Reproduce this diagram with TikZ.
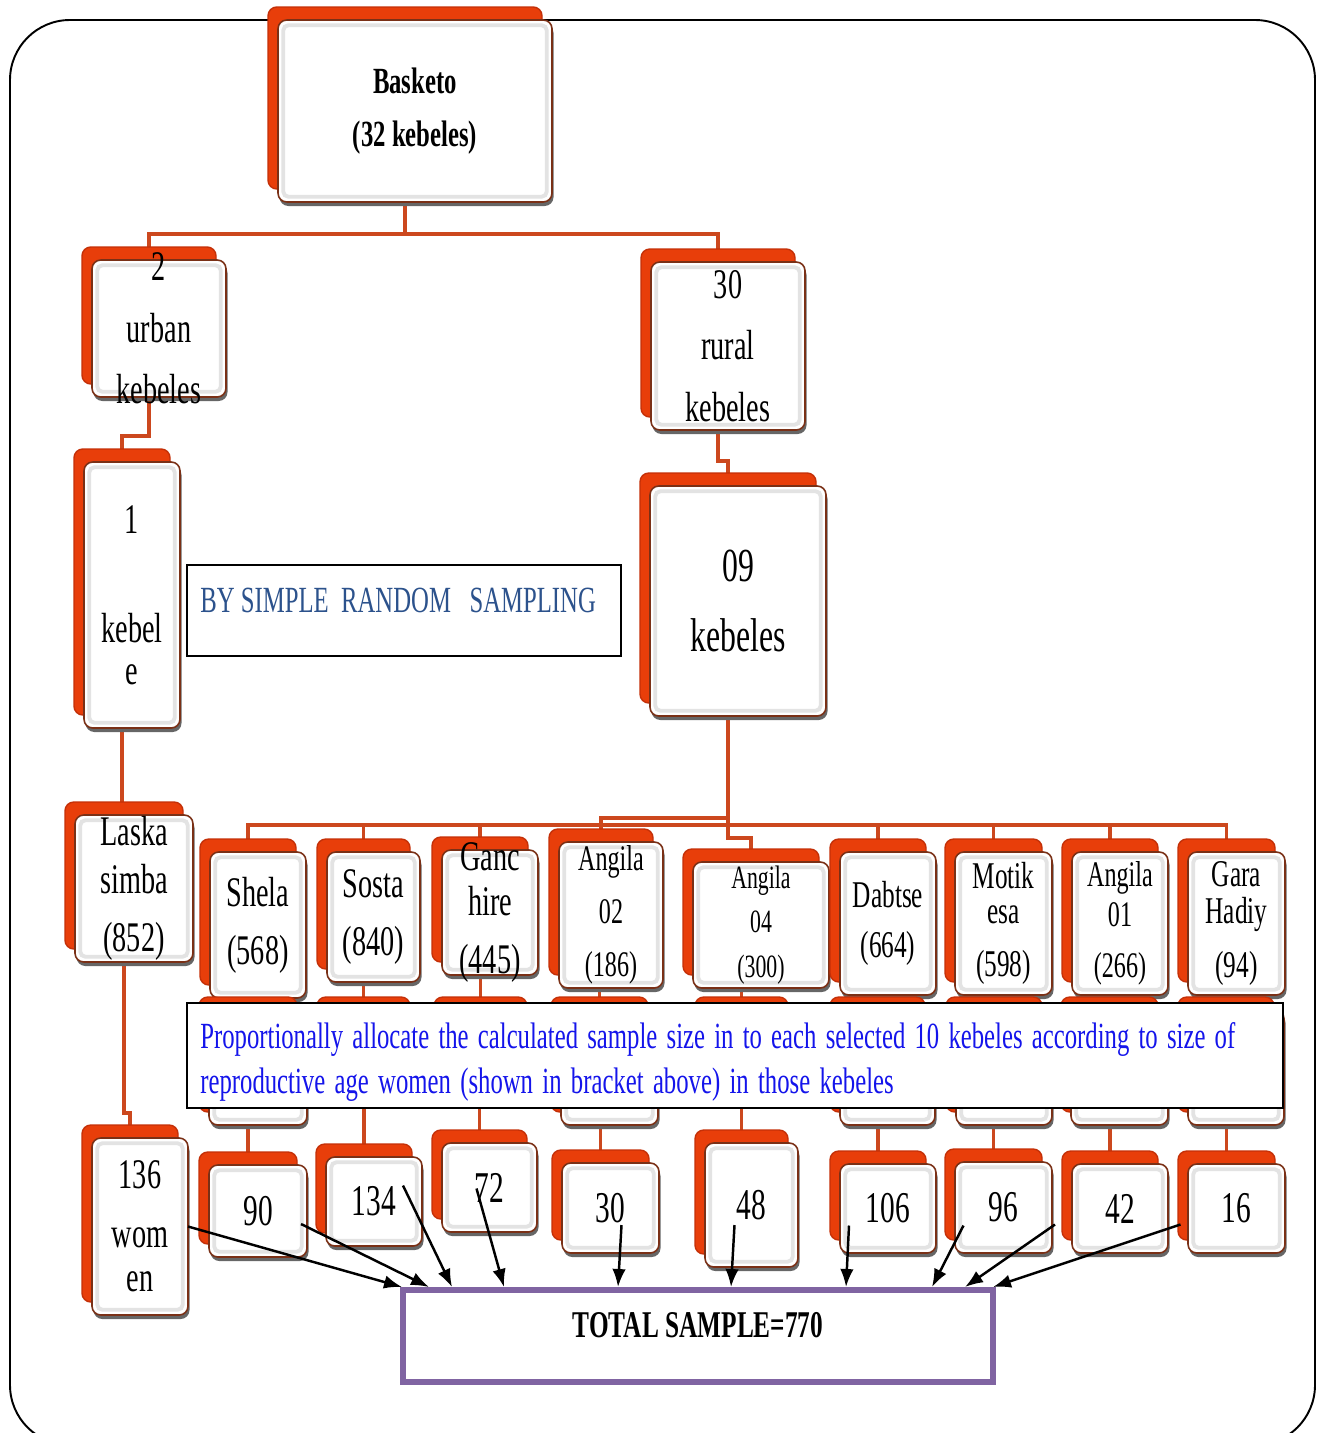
\documentclass[tikz,border=0pt]{standalone}
\usepackage{fontspec}
\setmainfont{Liberation Serif}[FakeStretch=0.67]
\usetikzlibrary{shadows,arrows.meta,calc}
\pgfdeclarelayer{background}
\pgfsetlayers{background,main}
\definecolor{backred}{RGB}{232,62,10}
\definecolor{backedge}{RGB}{196,48,8}
\definecolor{frontedge}{RGB}{122,48,22}
\definecolor{linkred}{RGB}{204,72,30}
\definecolor{srsblue}{RGB}{44,82,140}
\definecolor{allocblue}{RGB}{20,20,235}
\definecolor{totpurple}{RGB}{128,100,162}
\tikzstyle{kbox}=[draw=frontedge, line width=0.9pt, fill=white, rounded corners=5pt, inner sep=0pt,
  copy shadow={shadow xshift=-0.2cm, shadow yshift=0.26cm, fill=backred, draw=backedge, line width=0.8pt},
  general shadow={shadow xshift=0.03cm, shadow yshift=-0.08cm, fill=black!60}]
\tikzstyle{bevel}=[draw=black!11, line width=2.2pt, rounded corners=3pt]
\tikzstyle{ktext}=[align=center, inner sep=0pt]
\tikzstyle{link}=[draw=linkred, line width=2.2pt]
\tikzstyle{tot}=[draw, line width=1.4pt, -{Latex[length=0.36cm, width=0.27cm]}]

\begin{document}
\begin{tikzpicture}[x=0.02cm, y=-0.02cm]
    \useasboundingbox (0,0) rectangle (1319,1433);
    % Outer frame
    \draw[line width=1.1pt, rounded corners=1.2cm] (10,20) rectangle (1315,1445);

    % First we draw the boxes
    \foreach \name/\x/\y/\w/\h in {bask/415/111/274/182, urban/159/328.5/134/137, rural/728/346/154/168,
        k1/132/595/96/266, nine/738/601/176/230, laska/134/888.5/118/147,
        shela/258/925/96/146, sosta/373.5/917/93/130, ganc/490/912.5/96/125, a02/611/915/104/146,
        a04/761/925/136/126, dabtse/888/923.5/96/143, motik/1003.5/923.5/97/143,
        a01/1120/923.5/96/143, gara/1236.5/923.5/97/143, w136/140/1226.5/96/177,
        h1/258/1067.5/98/115, h2/373.5/1055/93/90, h3/490.5/1055/93/90, h4/609.5/1067.5/97/115,
        h5/751.5/1055/93/90, h6/887.5/1067.5/95/115, h7/1004/1067.5/96/115,
        h8/1119.5/1067.5/97/115, h9/1236/1067.5/96/115}
        \node[kbox, minimum width=\w*0.02cm, minimum height=\h*0.02cm] (\name) at (\x,\y) {};

    % Sample sizes
    \foreach \name/\x/\y/\w/\h/\txt in {s90/258/1211/98/92/90, s134/374/1201.5/96/89/134,
        s72/489.5/1187.5/95/89/72, s30/610.5/1208/97/90/30, s48/751.5/1205/93/124/48,
        s106/888/1208.5/96/89/106, s96/1003.5/1207.5/97/91/96, s42/1120/1208.5/96/89/42,
        s16/1236.5/1208.5/97/89/16}
        \node[kbox, minimum width=\w*0.02cm, minimum height=\h*0.02cm,
            font=\fontsize{25}{30}\selectfont] (\name) at (\x,\y) {\txt};

    \foreach \n in {bask,urban,rural,k1,nine,laska,shela,sosta,ganc,a02,a04,dabtse,motik,a01,gara,
        w136,h1,h2,h3,h4,h5,h6,h7,h8,h9,s90,s134,s72,s30,s48,s106,s96,s42,s16}
        \path[bevel] ([shift={(6,-6)}]\n.south west) rectangle ([shift={(-6,6)}]\n.north east);

    % Texts of the boxes
    \foreach \name/\fs/\bs/\txt in {bask/21/30/{\textbf{Basketo}\\\textbf{(32 kebeles)}},
        urban/24/35/{2\\urban\\kebeles}, rural/24/35/{30\\rural\\kebeles},
        k1/24/24/{1\\[38pt]kebel\\e}, nine/27/40/{09\\kebeles},
        laska/24/27/{Laska\\simba\\[6pt](852)}, shela/24/33/{Shela\\(568)},
        sosta/24/32.5/{Sosta\\(840)}, ganc/24/25.6/{Ganc\\hire\\[7pt](445)},
        a02/20.5/30/{Angila\\02\\(186)}, a04/18.5/25.5/{Angila\\04\\(300)},
        dabtse/21.5/28/{Dabtse\\(664)}, motik/21.5/20/{Motik\\esa\\[10pt](598)},
        a01/20.5/22.5/{Angila\\01\\[6.5pt](266)}, gara/21.5/21/{Gara\\Hadiy\\[9.5pt](94)},
        w136/24/25/{136\\[8.5pt]wom\\en}}
        \node[ktext, font=\fontsize{\fs}{\bs}\selectfont] (\name-t) at (\name) {\txt};

    % Notes
    \node[draw, line width=1.5pt, fill=white, inner sep=0pt, minimum width=434*0.02cm,
        minimum height=91*0.02cm] (srs) at (404,610.5) {};
    \node[anchor=base west, inner sep=0pt, text=srsblue, font=\fontsize{21}{25}\selectfont]
        (srs-t) at (200,612) {BY SIMPLE\ \ RANDOM\ \ \ SAMPLING};

    \node[draw, line width=1.6pt, fill=white, inner sep=0pt, minimum width=1096*0.02cm,
        minimum height=105*0.02cm] (alloc) at (735,1055.5) {};
    \node[anchor=base west, inner sep=0pt, text=allocblue, font=\fontsize{21}{25}\selectfont]
        (alloc-a) at (200,1048) {\makebox[20.7cm][s]{Proportionally allocate the calculated sample size in to each selected 10 kebeles according to size of}};
    \node[anchor=base west, inner sep=0pt, text=allocblue, font=\fontsize{21}{25}\selectfont]
        (alloc-b) at (200,1093) {\spaceskip=5.3pt plus 2pt\relax reproductive age women (shown in bracket above) in those kebeles};

    \node[draw=totpurple, line width=3.4pt, fill=white, inner sep=0pt, minimum width=590*0.02cm,
        minimum height=92*0.02cm] (total) at (698,1336) {};
    \node[anchor=base, inner sep=0pt, font=\fontsize{21.5}{25}\selectfont\bfseries]
        (total-t) at (698,1337) {TOTAL SAMPLE=770};

    % Connect boxes with lines
    \begin{pgfonlayer}{background}
        \coordinate (k1b) at ([xshift=-0.2cm]k1.south);
        \path[link] ([xshift=-0.2cm]bask.south) -- ++(0,31) -| ([xshift=-0.2cm]urban.north);
        \path[link] ([xshift=-0.2cm]bask.south) -- ++(0,31) -| ([xshift=-0.2cm]rural.north);
        \path[link] ([xshift=-0.2cm]urban.south) -- ++(0,38) -| ([xshift=-0.2cm]k1.north);
        \path[link] ([xshift=-0.2cm]rural.south) -- ++(0,30) -| ([xshift=-0.2cm]nine.north);
        \path[link] (k1b) -- (k1b |- laska.north);
        \path[link] ([xshift=-0.2cm]laska.south) -- ++(0,150) -| ([xshift=-0.2cm]w136.north);
        \foreach \kid in {shela,sosta,ganc,dabtse,motik,a01,gara}
            \path[link] ([xshift=-0.2cm]nine.south) -- ++(0,108) -| ([xshift=-0.2cm]\kid.north);
        \path[link] ([xshift=-0.2cm]nine.south) -- ++(0,101) -| ([xshift=-0.2cm]a02.north);
        \path[link] ([xshift=-0.2cm]nine.south) -- ++(0,121) -| ([xshift=-0.2cm]a04.north);
        \foreach \source/\mid/\dest in {shela/h1/s90, sosta/h2/s134, ganc/h3/s72, a02/h4/s30,
            a04/h5/s48, dabtse/h6/s106, motik/h7/s96, a01/h8/s42, gara/h9/s16}
        {
            \path[link] ([xshift=-0.2cm]\source.south) -| ([xshift=-0.2cm]\mid.north);
            \path[link] ([xshift=-0.2cm]\mid.south) -| ([xshift=-0.2cm]\dest.north);
        }
    \end{pgfonlayer}

    % Arrows to the total
    \foreach \s/\dx/\dy/\ex in {w136/48/0/2, s90/43/13/29, s134/29/-16/52, s72/-13/1/104,
        s30/11/17/218, s48/-17/20/331, s106/-39/17/446, s96/-40/18/532, s42/-65/16/565, s16/-56/16/593}
        \draw[tot] ($(\s)+(\dx,\dy)$) -- ($(total.north west)+(\ex,0)$);
\end{tikzpicture}
\end{document}
